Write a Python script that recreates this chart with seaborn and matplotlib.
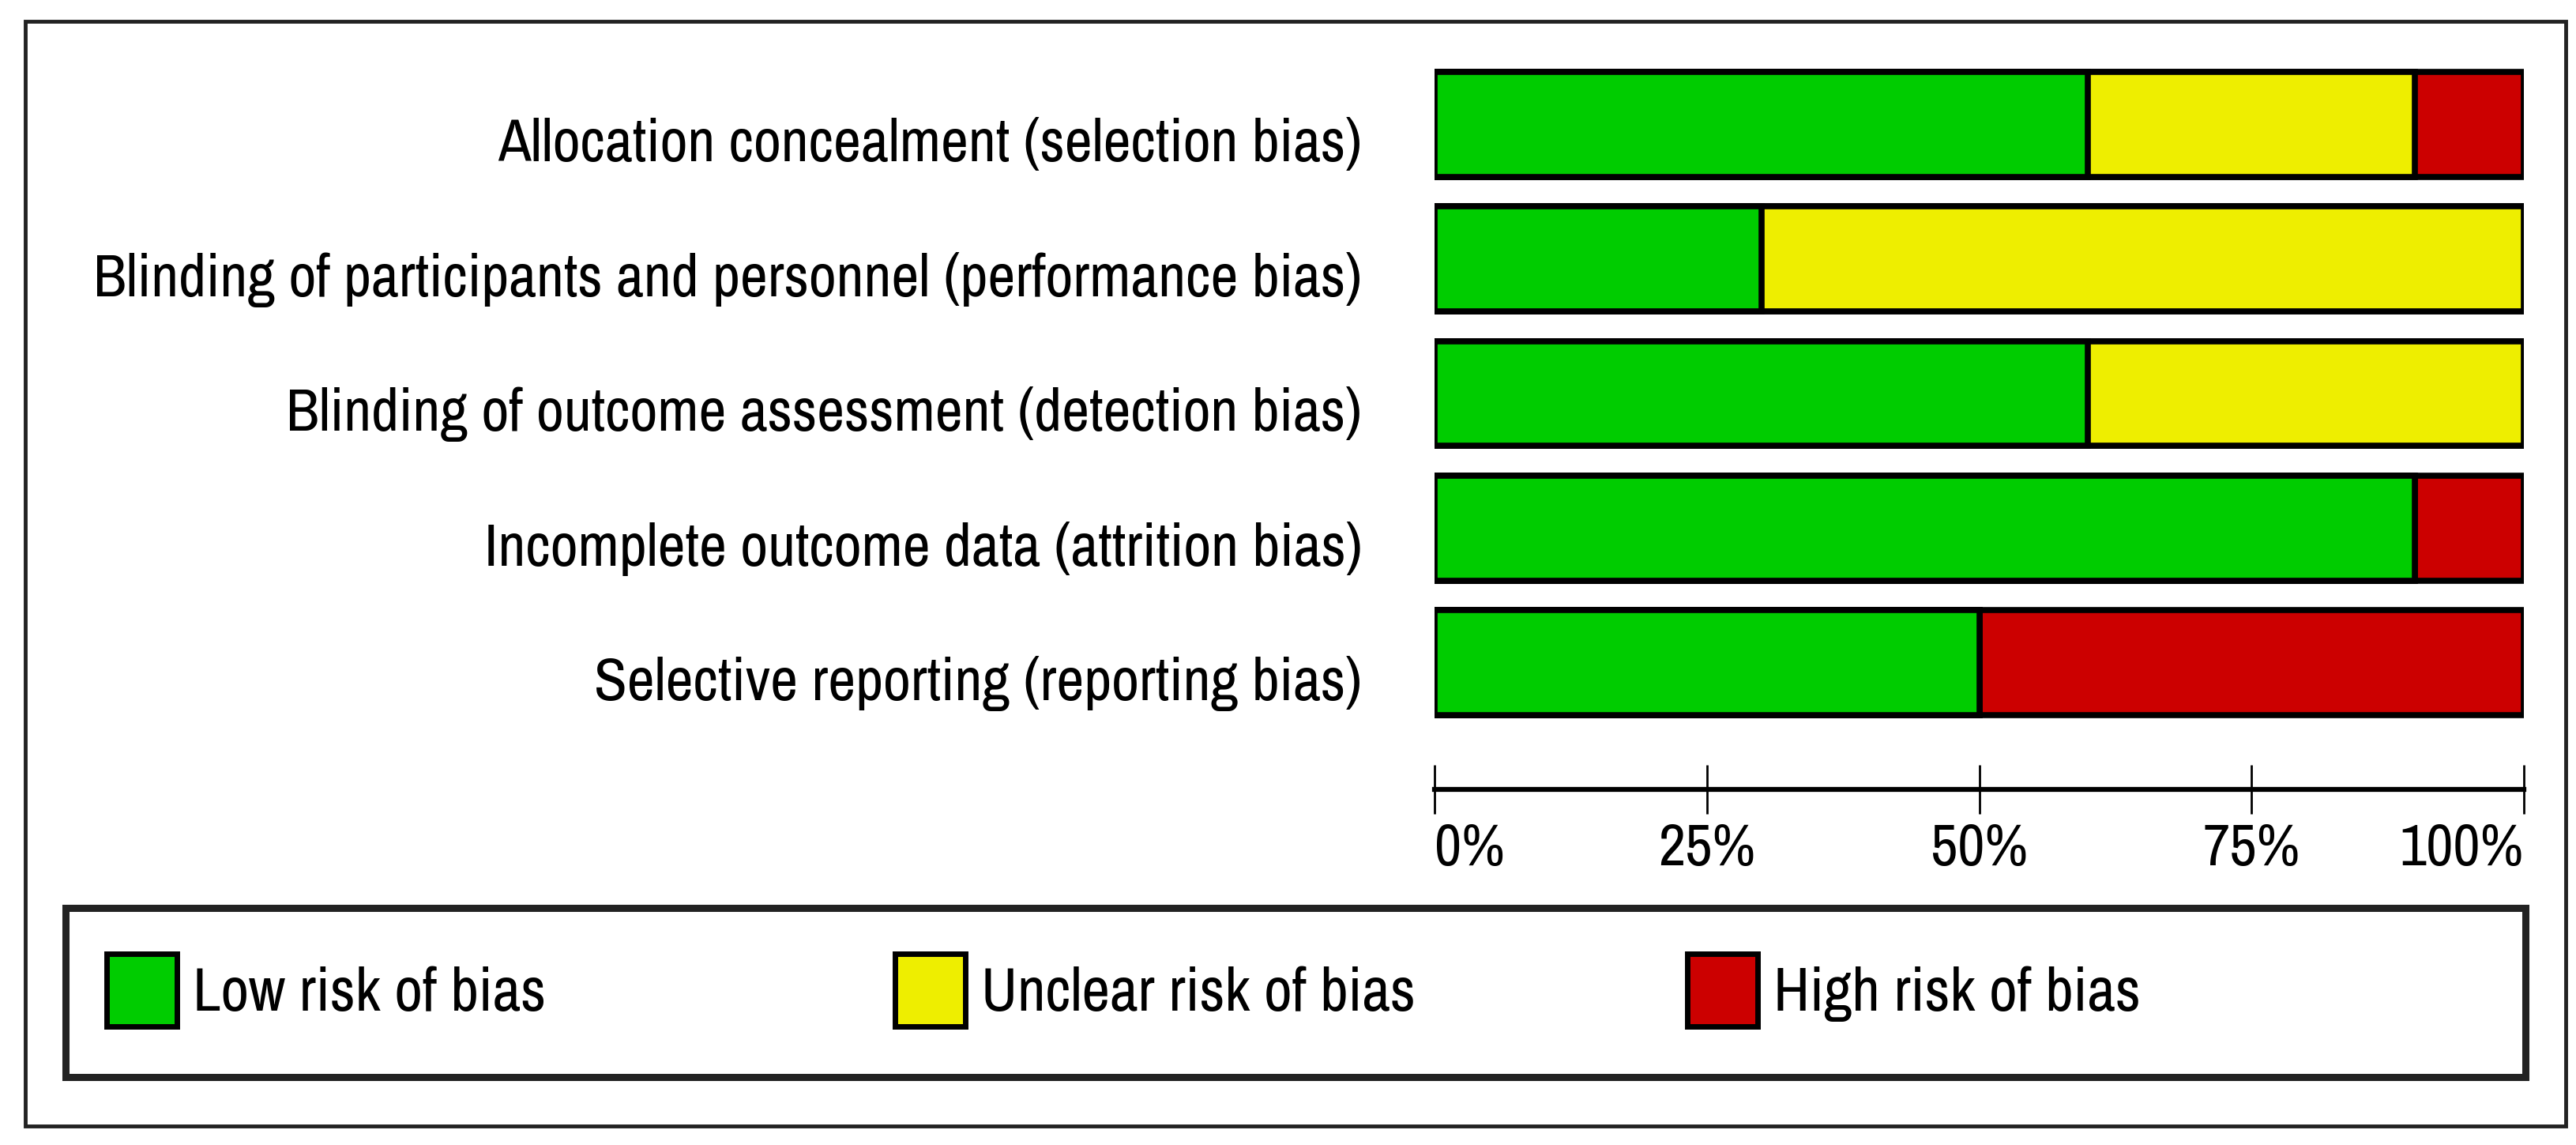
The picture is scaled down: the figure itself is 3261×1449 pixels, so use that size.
import matplotlib
matplotlib.use("Agg")
import matplotlib.pyplot as plt
import matplotlib.patches as mpatches
from matplotlib.transforms import ScaledTranslation
import seaborn as sns
import pandas as pd

# 데이터 (risk of bias, %)
domains = ["Allocation concealment (selection bias)",
           "Blinding of participants and personnel (performance bias)",
           "Blinding of outcome assessment (detection bias)",
           "Incomplete outcome data (attrition bias)",
           "Selective reporting (reporting bias)"]
low = [60, 30, 60, 90, 50]
unclear = [30, 70, 40, 0, 0]
high = [10, 0, 0, 10, 50]
legend_labels = ["Low risk of bias", "Unclear risk of bias", "High risk of bias"]
tick_vals = [0, 25, 50, 75, 100]
tick_labels = ["0%", "25%", "50%", "75%", "100%"]
colors = ["#00CC00", "#EEEE00", "#CC0000"]

sns.set_style("white")
plt.rcParams["font.family"] = ["Archivo Narrow", "DejaVu Sans"]
plt.rcParams["text.color"] = "black"
plt.rcParams["xtick.color"] = "black"
plt.rcParams["ytick.color"] = "black"

df = pd.DataFrame({"domain": domains, "low": low, "unclear": unclear, "high": high})
df["c_high"] = df["low"] + df["unclear"] + df["high"]
df["c_unclear"] = df["low"] + df["unclear"]

W, H = 3261, 1449
fig = plt.figure(figsize=(W / 100, H / 100), dpi=100)
ax = fig.add_axes([1816 / W, 1 - 924 / H, (3195 - 1816) / W, (924 - 72) / H])

# 누적 막대: 뒤에서부터 그리기
for col, c in zip(["c_high", "c_unclear", "low"], colors[::-1]):
    sns.barplot(data=df, x=col, y="domain", orient="h", color=c, width=0.78,
                edgecolor="black", linewidth=5.5, saturation=1, ax=ax)

ax.set_xlim(0, 100)
ax.set_ylim(4.5, -0.5)
ax.set_xlabel("")
ax.set_ylabel("")
for s in ["top", "right", "left"]:
    ax.spines[s].set_visible(False)
ax.spines["bottom"].set_position(("outward", 54))
ax.spines["bottom"].set_linewidth(4.5)
ax.spines["bottom"].set_color("black")
ax.set_xticks(tick_vals)
ax.set_xticklabels(tick_labels, fontsize=54)
ax.tick_params(axis="x", direction="inout", length=44, width=2, pad=8, bottom=True)
ax.tick_params(axis="y", length=0, pad=66, labelsize=55)
xl = ax.get_xticklabels()
xl[0].set_horizontalalignment("left")
xl[-1].set_horizontalalignment("right")
# 라벨을 막대 중심보다 살짝 아래로
shift = ScaledTranslation(0, -14 / 72, fig.dpi_scale_trans)
for lbl in ax.get_yticklabels():
    lbl.set_transform(lbl.get_transform() + shift)

# 바깥 테두리 & 범례 박스
fig.add_artist(mpatches.Rectangle((32 / W, 1 - 1425 / H), (3248 - 32) / W, (1425 - 27) / H,
                                  transform=fig.transFigure, fill=False, edgecolor="#222222", linewidth=3.5))
fig.add_artist(mpatches.Rectangle((83 / W, 1 - 1363 / H), (3197 - 83) / W, (1363 - 1149) / H,
                                  transform=fig.transFigure, fill=False, edgecolor="#222222", linewidth=6.5))

leg_x = [135, 1133, 2136]
for lab, c, x in zip(legend_labels, colors, leg_x):
    h = mpatches.Patch(facecolor=c, edgecolor="black", linewidth=5)
    fig.legend(handles=[h], labels=[lab], loc="center left", bbox_to_anchor=(x / W, 1 - 1253 / H),
               frameon=False, fontsize=56, borderpad=0, borderaxespad=0,
               handlelength=1.15, handleheight=1.45, handletextpad=0.25)

fig.savefig("out.png", dpi=100, facecolor="white")
